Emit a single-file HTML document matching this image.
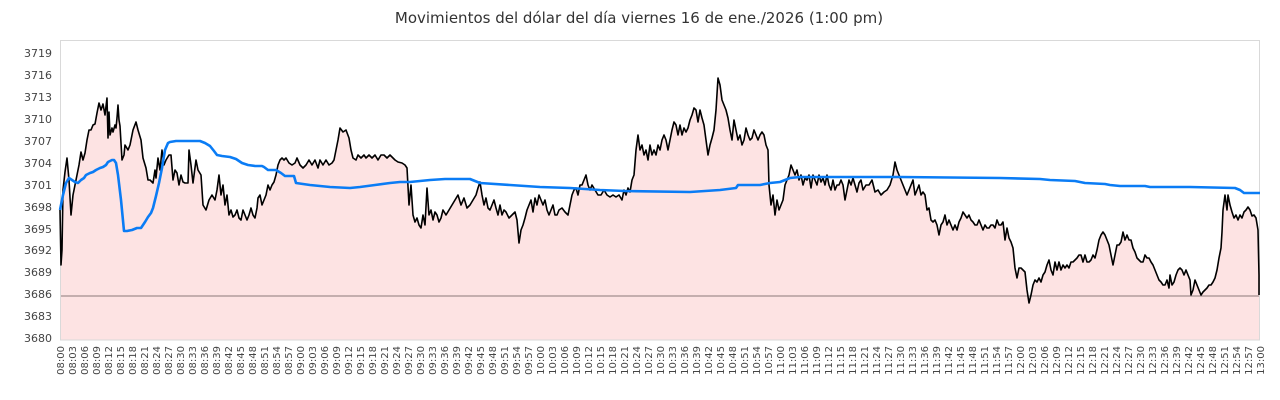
<!DOCTYPE html>
<html><head><meta charset="utf-8"><style>
html,body{margin:0;padding:0;background:#fff;width:1280px;height:400px;overflow:hidden}
svg text{font-family:"DejaVu Sans","Liberation Sans",sans-serif;fill:#444}
</style></head><body>
<svg width="1280" height="400" viewBox="0 0 1280 400" xmlns="http://www.w3.org/2000/svg">
<text x="639" y="23" text-anchor="middle" style="font-size:15px;fill:#333">Movimientos del dólar del día viernes 16 de ene./2026 (1:00 pm)</text>
<polygon fill="#fde3e3" points="60,210 61,265 62,250 63,190 65,172 67,158 69,180 71,215 73,195 75,185 77,175 79,165 81,152 83,160 85,153 87,140 89,130 91,130 93,125 95,124 97,113 99,103 101,110 103,104 105,115 107,98 108,138 109,112 110,135 112,128 113,132 115,125 116,128 117,118 118,105 119,120 120,126 122,160 124,155 125,145 128,150 130,145 133,130 136,122 138,130 141,140 143,158 146,168 148,180 150,180 153,183 155,170 156,178 158,158 160,170 162,150 164,165 166,160 169,155 171,155 173,180 175,170 177,173 179,185 181,175 183,182 185,183 188,183 189,150 191,165 193,183 196,160 198,170 201,175 203,205 206,210 209,200 212,195 215,200 217,190 219,175 221,195 223,185 225,205 227,195 229,215 231,210 233,217 235,215 237,210 239,218 241,220 243,210 245,215 247,220 249,215 251,208 253,215 255,218 257,208 258,198 260,195 262,205 264,200 266,195 268,185 270,190 272,185 274,182 276,175 278,165 280,160 282,158 284,160 286,158 289,163 292,165 295,163 297,158 300,165 303,168 306,165 309,160 312,165 315,160 318,168 320,160 323,165 326,160 329,165 332,163 334,160 336,150 338,140 340,128 343,132 346,130 349,138 351,150 353,158 356,160 358,155 361,158 364,155 366,158 369,155 372,158 375,155 378,160 381,155 384,155 387,158 390,155 393,158 395,160 398,162 402,163 405,165 407,168 409,205 411,185 413,215 415,222 417,218 419,225 421,228 423,215 425,225 427,188 429,215 431,210 433,220 435,212 437,215 439,222 441,218 443,210 446,215 449,210 452,205 455,200 458,195 461,205 464,198 467,208 470,205 473,200 476,195 478,188 480,182 482,195 484,205 486,198 488,208 490,210 492,205 494,200 496,208 498,215 500,205 502,215 504,210 506,212 509,218 512,215 515,212 517,220 519,243 521,230 523,225 525,218 527,210 529,205 531,200 533,212 535,198 537,205 539,195 541,200 543,205 545,200 547,210 549,215 551,210 553,205 555,215 557,215 559,210 562,208 565,212 568,215 570,205 572,195 574,190 576,188 578,195 580,185 582,185 584,180 586,175 588,185 590,190 592,185 595,190 598,195 601,195 604,190 607,195 610,197 613,195 616,197 619,195 622,200 624,190 626,195 628,188 630,192 632,180 634,175 636,150 638,135 640,150 642,145 644,155 646,150 648,160 650,145 652,155 654,150 656,155 658,145 660,150 662,140 664,135 666,140 668,150 670,140 672,130 674,122 676,125 678,135 680,125 682,135 684,128 686,132 688,128 690,120 692,115 694,108 696,110 698,122 700,110 702,118 704,125 706,140 708,155 710,145 712,138 714,130 716,110 718,78 720,85 722,100 724,105 726,110 728,118 730,130 732,140 734,120 736,130 738,140 740,135 742,145 744,140 746,128 748,135 750,140 752,138 754,130 756,135 758,140 760,135 762,132 764,135 766,145 768,150 769,185 771,205 773,195 775,215 777,200 779,210 781,205 783,200 785,185 787,180 789,175 791,165 793,170 795,175 797,170 799,180 801,175 803,185 805,178 807,180 809,175 811,188 813,175 815,180 817,185 819,175 821,182 823,178 825,185 827,175 829,185 831,190 833,180 835,190 837,185 839,185 841,180 843,185 845,200 847,190 849,180 851,185 853,178 855,185 857,192 859,183 861,180 863,190 866,185 869,185 872,180 875,192 878,190 881,195 884,192 887,190 890,185 893,175 895,162 897,170 899,175 901,180 903,185 905,190 907,195 909,190 911,185 913,180 915,195 917,190 919,185 921,195 923,192 925,195 927,210 929,208 931,220 933,222 935,220 937,225 939,235 941,225 943,222 945,215 947,225 949,220 951,225 953,230 955,225 957,230 959,222 961,218 963,212 965,215 967,218 969,215 971,220 973,222 975,225 977,225 979,220 981,225 983,230 985,225 987,228 989,228 991,225 993,225 995,228 997,220 999,225 1001,225 1003,222 1005,240 1007,228 1009,238 1011,242 1013,248 1015,268 1017,278 1019,268 1021,268 1023,270 1025,272 1027,290 1029,303 1031,295 1033,285 1035,280 1037,282 1039,278 1041,282 1043,275 1045,272 1047,265 1049,260 1051,270 1053,275 1055,262 1057,270 1059,262 1061,270 1063,265 1065,268 1067,265 1069,268 1071,262 1073,262 1075,260 1077,258 1079,255 1081,255 1083,262 1085,255 1087,262 1089,262 1091,260 1093,255 1095,258 1097,250 1099,240 1101,235 1103,232 1105,235 1107,240 1109,245 1111,255 1113,265 1115,255 1117,245 1119,245 1121,242 1123,232 1125,240 1127,235 1129,240 1131,240 1133,248 1135,252 1137,258 1139,260 1141,262 1143,262 1145,255 1147,258 1149,258 1151,262 1153,265 1155,270 1157,275 1159,280 1161,282 1163,285 1165,285 1167,280 1169,288 1170,275 1172,285 1174,282 1176,275 1178,270 1180,268 1182,270 1184,275 1186,270 1188,275 1190,280 1191,295 1193,290 1195,280 1197,285 1199,290 1201,295 1203,292 1205,290 1207,288 1209,285 1211,285 1213,282 1215,278 1217,270 1219,258 1221,248 1222,232 1223,210 1225,195 1227,210 1228,195 1230,205 1232,212 1234,218 1236,215 1238,220 1240,215 1242,218 1244,212 1246,210 1248,207 1250,210 1252,216 1254,215 1256,218 1258,230 1259,275 1259,340 60,340"/>
<line x1="60" y1="296" x2="1259" y2="296" stroke="#8a7a7a" stroke-width="1"/>
<rect x="60.5" y="40.5" width="1199" height="299.5" fill="none" stroke="#d9d9d9" stroke-width="1"/>
<polyline fill="none" stroke="#000" stroke-width="1.6" stroke-linejoin="round" points="60,210 61,265 62,250 63,190 65,172 67,158 69,180 71,215 73,195 75,185 77,175 79,165 81,152 83,160 85,153 87,140 89,130 91,130 93,125 95,124 97,113 99,103 101,110 103,104 105,115 107,98 108,138 109,112 110,135 112,128 113,132 115,125 116,128 117,118 118,105 119,120 120,126 122,160 124,155 125,145 128,150 130,145 133,130 136,122 138,130 141,140 143,158 146,168 148,180 150,180 153,183 155,170 156,178 158,158 160,170 162,150 164,165 166,160 169,155 171,155 173,180 175,170 177,173 179,185 181,175 183,182 185,183 188,183 189,150 191,165 193,183 196,160 198,170 201,175 203,205 206,210 209,200 212,195 215,200 217,190 219,175 221,195 223,185 225,205 227,195 229,215 231,210 233,217 235,215 237,210 239,218 241,220 243,210 245,215 247,220 249,215 251,208 253,215 255,218 257,208 258,198 260,195 262,205 264,200 266,195 268,185 270,190 272,185 274,182 276,175 278,165 280,160 282,158 284,160 286,158 289,163 292,165 295,163 297,158 300,165 303,168 306,165 309,160 312,165 315,160 318,168 320,160 323,165 326,160 329,165 332,163 334,160 336,150 338,140 340,128 343,132 346,130 349,138 351,150 353,158 356,160 358,155 361,158 364,155 366,158 369,155 372,158 375,155 378,160 381,155 384,155 387,158 390,155 393,158 395,160 398,162 402,163 405,165 407,168 409,205 411,185 413,215 415,222 417,218 419,225 421,228 423,215 425,225 427,188 429,215 431,210 433,220 435,212 437,215 439,222 441,218 443,210 446,215 449,210 452,205 455,200 458,195 461,205 464,198 467,208 470,205 473,200 476,195 478,188 480,182 482,195 484,205 486,198 488,208 490,210 492,205 494,200 496,208 498,215 500,205 502,215 504,210 506,212 509,218 512,215 515,212 517,220 519,243 521,230 523,225 525,218 527,210 529,205 531,200 533,212 535,198 537,205 539,195 541,200 543,205 545,200 547,210 549,215 551,210 553,205 555,215 557,215 559,210 562,208 565,212 568,215 570,205 572,195 574,190 576,188 578,195 580,185 582,185 584,180 586,175 588,185 590,190 592,185 595,190 598,195 601,195 604,190 607,195 610,197 613,195 616,197 619,195 622,200 624,190 626,195 628,188 630,192 632,180 634,175 636,150 638,135 640,150 642,145 644,155 646,150 648,160 650,145 652,155 654,150 656,155 658,145 660,150 662,140 664,135 666,140 668,150 670,140 672,130 674,122 676,125 678,135 680,125 682,135 684,128 686,132 688,128 690,120 692,115 694,108 696,110 698,122 700,110 702,118 704,125 706,140 708,155 710,145 712,138 714,130 716,110 718,78 720,85 722,100 724,105 726,110 728,118 730,130 732,140 734,120 736,130 738,140 740,135 742,145 744,140 746,128 748,135 750,140 752,138 754,130 756,135 758,140 760,135 762,132 764,135 766,145 768,150 769,185 771,205 773,195 775,215 777,200 779,210 781,205 783,200 785,185 787,180 789,175 791,165 793,170 795,175 797,170 799,180 801,175 803,185 805,178 807,180 809,175 811,188 813,175 815,180 817,185 819,175 821,182 823,178 825,185 827,175 829,185 831,190 833,180 835,190 837,185 839,185 841,180 843,185 845,200 847,190 849,180 851,185 853,178 855,185 857,192 859,183 861,180 863,190 866,185 869,185 872,180 875,192 878,190 881,195 884,192 887,190 890,185 893,175 895,162 897,170 899,175 901,180 903,185 905,190 907,195 909,190 911,185 913,180 915,195 917,190 919,185 921,195 923,192 925,195 927,210 929,208 931,220 933,222 935,220 937,225 939,235 941,225 943,222 945,215 947,225 949,220 951,225 953,230 955,225 957,230 959,222 961,218 963,212 965,215 967,218 969,215 971,220 973,222 975,225 977,225 979,220 981,225 983,230 985,225 987,228 989,228 991,225 993,225 995,228 997,220 999,225 1001,225 1003,222 1005,240 1007,228 1009,238 1011,242 1013,248 1015,268 1017,278 1019,268 1021,268 1023,270 1025,272 1027,290 1029,303 1031,295 1033,285 1035,280 1037,282 1039,278 1041,282 1043,275 1045,272 1047,265 1049,260 1051,270 1053,275 1055,262 1057,270 1059,262 1061,270 1063,265 1065,268 1067,265 1069,268 1071,262 1073,262 1075,260 1077,258 1079,255 1081,255 1083,262 1085,255 1087,262 1089,262 1091,260 1093,255 1095,258 1097,250 1099,240 1101,235 1103,232 1105,235 1107,240 1109,245 1111,255 1113,265 1115,255 1117,245 1119,245 1121,242 1123,232 1125,240 1127,235 1129,240 1131,240 1133,248 1135,252 1137,258 1139,260 1141,262 1143,262 1145,255 1147,258 1149,258 1151,262 1153,265 1155,270 1157,275 1159,280 1161,282 1163,285 1165,285 1167,280 1169,288 1170,275 1172,285 1174,282 1176,275 1178,270 1180,268 1182,270 1184,275 1186,270 1188,275 1190,280 1191,295 1193,290 1195,280 1197,285 1199,290 1201,295 1203,292 1205,290 1207,288 1209,285 1211,285 1213,282 1215,278 1217,270 1219,258 1221,248 1222,232 1223,210 1225,195 1227,210 1228,195 1230,205 1232,212 1234,218 1236,215 1238,220 1240,215 1242,218 1244,212 1246,210 1248,207 1250,210 1252,216 1254,215 1256,218 1258,230 1259,275 1259,295"/>
<polyline fill="none" stroke="#0a7cf5" stroke-width="2.6" stroke-linejoin="round" points="60,210 63,195 66,183 69,178 72,180 75,182 78,183 81,180 84,178 86,175 88,174 90,173 93,172 96,170 100,168 103,167 106,165 108,162 112,160 114,160 116,163 118,175 121,200 124,231 127,231 132,230 137,228 141,228 145,222 148,217 151,213 153,208 156,196 159,183 162,168 165,150 168,143 170,142 176,141 200,141 205,143 210,146 214,151 217,155 222,156 230,157 236,159 242,163 248,165 255,166 262,166 264,167 268,170 276,170 281,173 285,176 292,176 294,176 296,183 310,185 330,187 350,188 360,187 375,185 390,183 400,182 410,182 420,181 430,180 445,179 470,179 480,183 510,185 540,187 570,188 600,190 625,191 690,192 720,190 736,188 738,185 760,185 770,183 780,182 790,178 800,177 840,177 900,177 1000,178 1040,179 1050,180 1075,181 1085,183 1105,184 1110,185 1120,186 1145,186 1150,187 1190,187 1235,188 1240,190 1244,193 1260,193"/>
<g style="font-size:11px" text-anchor="end">
<text x="52" y="57">3719</text><text x="52" y="79">3716</text><text x="52" y="101">3713</text><text x="52" y="123">3710</text><text x="52" y="145">3707</text><text x="52" y="167">3704</text><text x="52" y="189">3701</text><text x="52" y="211">3698</text><text x="52" y="233">3695</text><text x="52" y="254">3692</text><text x="52" y="276">3689</text><text x="52" y="298">3686</text><text x="52" y="320">3683</text><text x="52" y="342">3680</text>
</g>
<g style="font-size:10px" text-anchor="end">
<text transform="translate(64,346) rotate(-90)">08:00</text><text transform="translate(76,346) rotate(-90)">08:03</text><text transform="translate(88,346) rotate(-90)">08:06</text><text transform="translate(100,346) rotate(-90)">08:09</text><text transform="translate(112,346) rotate(-90)">08:12</text><text transform="translate(124,346) rotate(-90)">08:15</text><text transform="translate(136,346) rotate(-90)">08:18</text><text transform="translate(148,346) rotate(-90)">08:21</text><text transform="translate(160,346) rotate(-90)">08:24</text><text transform="translate(172,346) rotate(-90)">08:27</text><text transform="translate(184,346) rotate(-90)">08:30</text><text transform="translate(196,346) rotate(-90)">08:33</text><text transform="translate(208,346) rotate(-90)">08:36</text><text transform="translate(220,346) rotate(-90)">08:39</text><text transform="translate(232,346) rotate(-90)">08:42</text><text transform="translate(244,346) rotate(-90)">08:45</text><text transform="translate(256,346) rotate(-90)">08:48</text><text transform="translate(268,346) rotate(-90)">08:51</text><text transform="translate(280,346) rotate(-90)">08:54</text><text transform="translate(292,346) rotate(-90)">08:57</text>
<text transform="translate(304,346) rotate(-90)">09:00</text><text transform="translate(316,346) rotate(-90)">09:03</text><text transform="translate(328,346) rotate(-90)">09:06</text><text transform="translate(340,346) rotate(-90)">09:09</text><text transform="translate(352,346) rotate(-90)">09:12</text><text transform="translate(364,346) rotate(-90)">09:15</text><text transform="translate(376,346) rotate(-90)">09:18</text><text transform="translate(388,346) rotate(-90)">09:21</text><text transform="translate(400,346) rotate(-90)">09:24</text><text transform="translate(412,346) rotate(-90)">09:27</text><text transform="translate(424,346) rotate(-90)">09:30</text><text transform="translate(436,346) rotate(-90)">09:33</text><text transform="translate(448,346) rotate(-90)">09:36</text><text transform="translate(460,346) rotate(-90)">09:39</text><text transform="translate(472,346) rotate(-90)">09:42</text><text transform="translate(484,346) rotate(-90)">09:45</text><text transform="translate(496,346) rotate(-90)">09:48</text><text transform="translate(508,346) rotate(-90)">09:51</text><text transform="translate(520,346) rotate(-90)">09:54</text><text transform="translate(532,346) rotate(-90)">09:57</text>
<text transform="translate(544,346) rotate(-90)">10:00</text><text transform="translate(556,346) rotate(-90)">10:03</text><text transform="translate(568,346) rotate(-90)">10:06</text><text transform="translate(580,346) rotate(-90)">10:09</text><text transform="translate(592,346) rotate(-90)">10:12</text><text transform="translate(604,346) rotate(-90)">10:15</text><text transform="translate(616,346) rotate(-90)">10:18</text><text transform="translate(628,346) rotate(-90)">10:21</text><text transform="translate(640,346) rotate(-90)">10:24</text><text transform="translate(652,346) rotate(-90)">10:27</text><text transform="translate(664,346) rotate(-90)">10:30</text><text transform="translate(676,346) rotate(-90)">10:33</text><text transform="translate(688,346) rotate(-90)">10:36</text><text transform="translate(700,346) rotate(-90)">10:39</text><text transform="translate(712,346) rotate(-90)">10:42</text><text transform="translate(724,346) rotate(-90)">10:45</text><text transform="translate(736,346) rotate(-90)">10:48</text><text transform="translate(748,346) rotate(-90)">10:51</text><text transform="translate(760,346) rotate(-90)">10:54</text><text transform="translate(772,346) rotate(-90)">10:57</text>
<text transform="translate(784,346) rotate(-90)">11:00</text><text transform="translate(796,346) rotate(-90)">11:03</text><text transform="translate(808,346) rotate(-90)">11:06</text><text transform="translate(820,346) rotate(-90)">11:09</text><text transform="translate(832,346) rotate(-90)">11:12</text><text transform="translate(844,346) rotate(-90)">11:15</text><text transform="translate(856,346) rotate(-90)">11:18</text><text transform="translate(868,346) rotate(-90)">11:21</text><text transform="translate(880,346) rotate(-90)">11:24</text><text transform="translate(892,346) rotate(-90)">11:27</text><text transform="translate(904,346) rotate(-90)">11:30</text><text transform="translate(916,346) rotate(-90)">11:33</text><text transform="translate(928,346) rotate(-90)">11:36</text><text transform="translate(940,346) rotate(-90)">11:39</text><text transform="translate(952,346) rotate(-90)">11:42</text><text transform="translate(964,346) rotate(-90)">11:45</text><text transform="translate(976,346) rotate(-90)">11:48</text><text transform="translate(988,346) rotate(-90)">11:51</text><text transform="translate(1000,346) rotate(-90)">11:54</text><text transform="translate(1012,346) rotate(-90)">11:57</text>
<text transform="translate(1024,346) rotate(-90)">12:00</text><text transform="translate(1036,346) rotate(-90)">12:03</text><text transform="translate(1048,346) rotate(-90)">12:06</text><text transform="translate(1060,346) rotate(-90)">12:09</text><text transform="translate(1072,346) rotate(-90)">12:12</text><text transform="translate(1084,346) rotate(-90)">12:15</text><text transform="translate(1096,346) rotate(-90)">12:18</text><text transform="translate(1108,346) rotate(-90)">12:21</text><text transform="translate(1120,346) rotate(-90)">12:24</text><text transform="translate(1132,346) rotate(-90)">12:27</text><text transform="translate(1144,346) rotate(-90)">12:30</text><text transform="translate(1156,346) rotate(-90)">12:33</text><text transform="translate(1168,346) rotate(-90)">12:36</text><text transform="translate(1180,346) rotate(-90)">12:39</text><text transform="translate(1192,346) rotate(-90)">12:42</text><text transform="translate(1204,346) rotate(-90)">12:45</text><text transform="translate(1216,346) rotate(-90)">12:48</text><text transform="translate(1228,346) rotate(-90)">12:51</text><text transform="translate(1240,346) rotate(-90)">12:54</text><text transform="translate(1252,346) rotate(-90)">12:57</text>
<text transform="translate(1264,346) rotate(-90)">13:00</text>
</g>
</svg>
</body></html>
